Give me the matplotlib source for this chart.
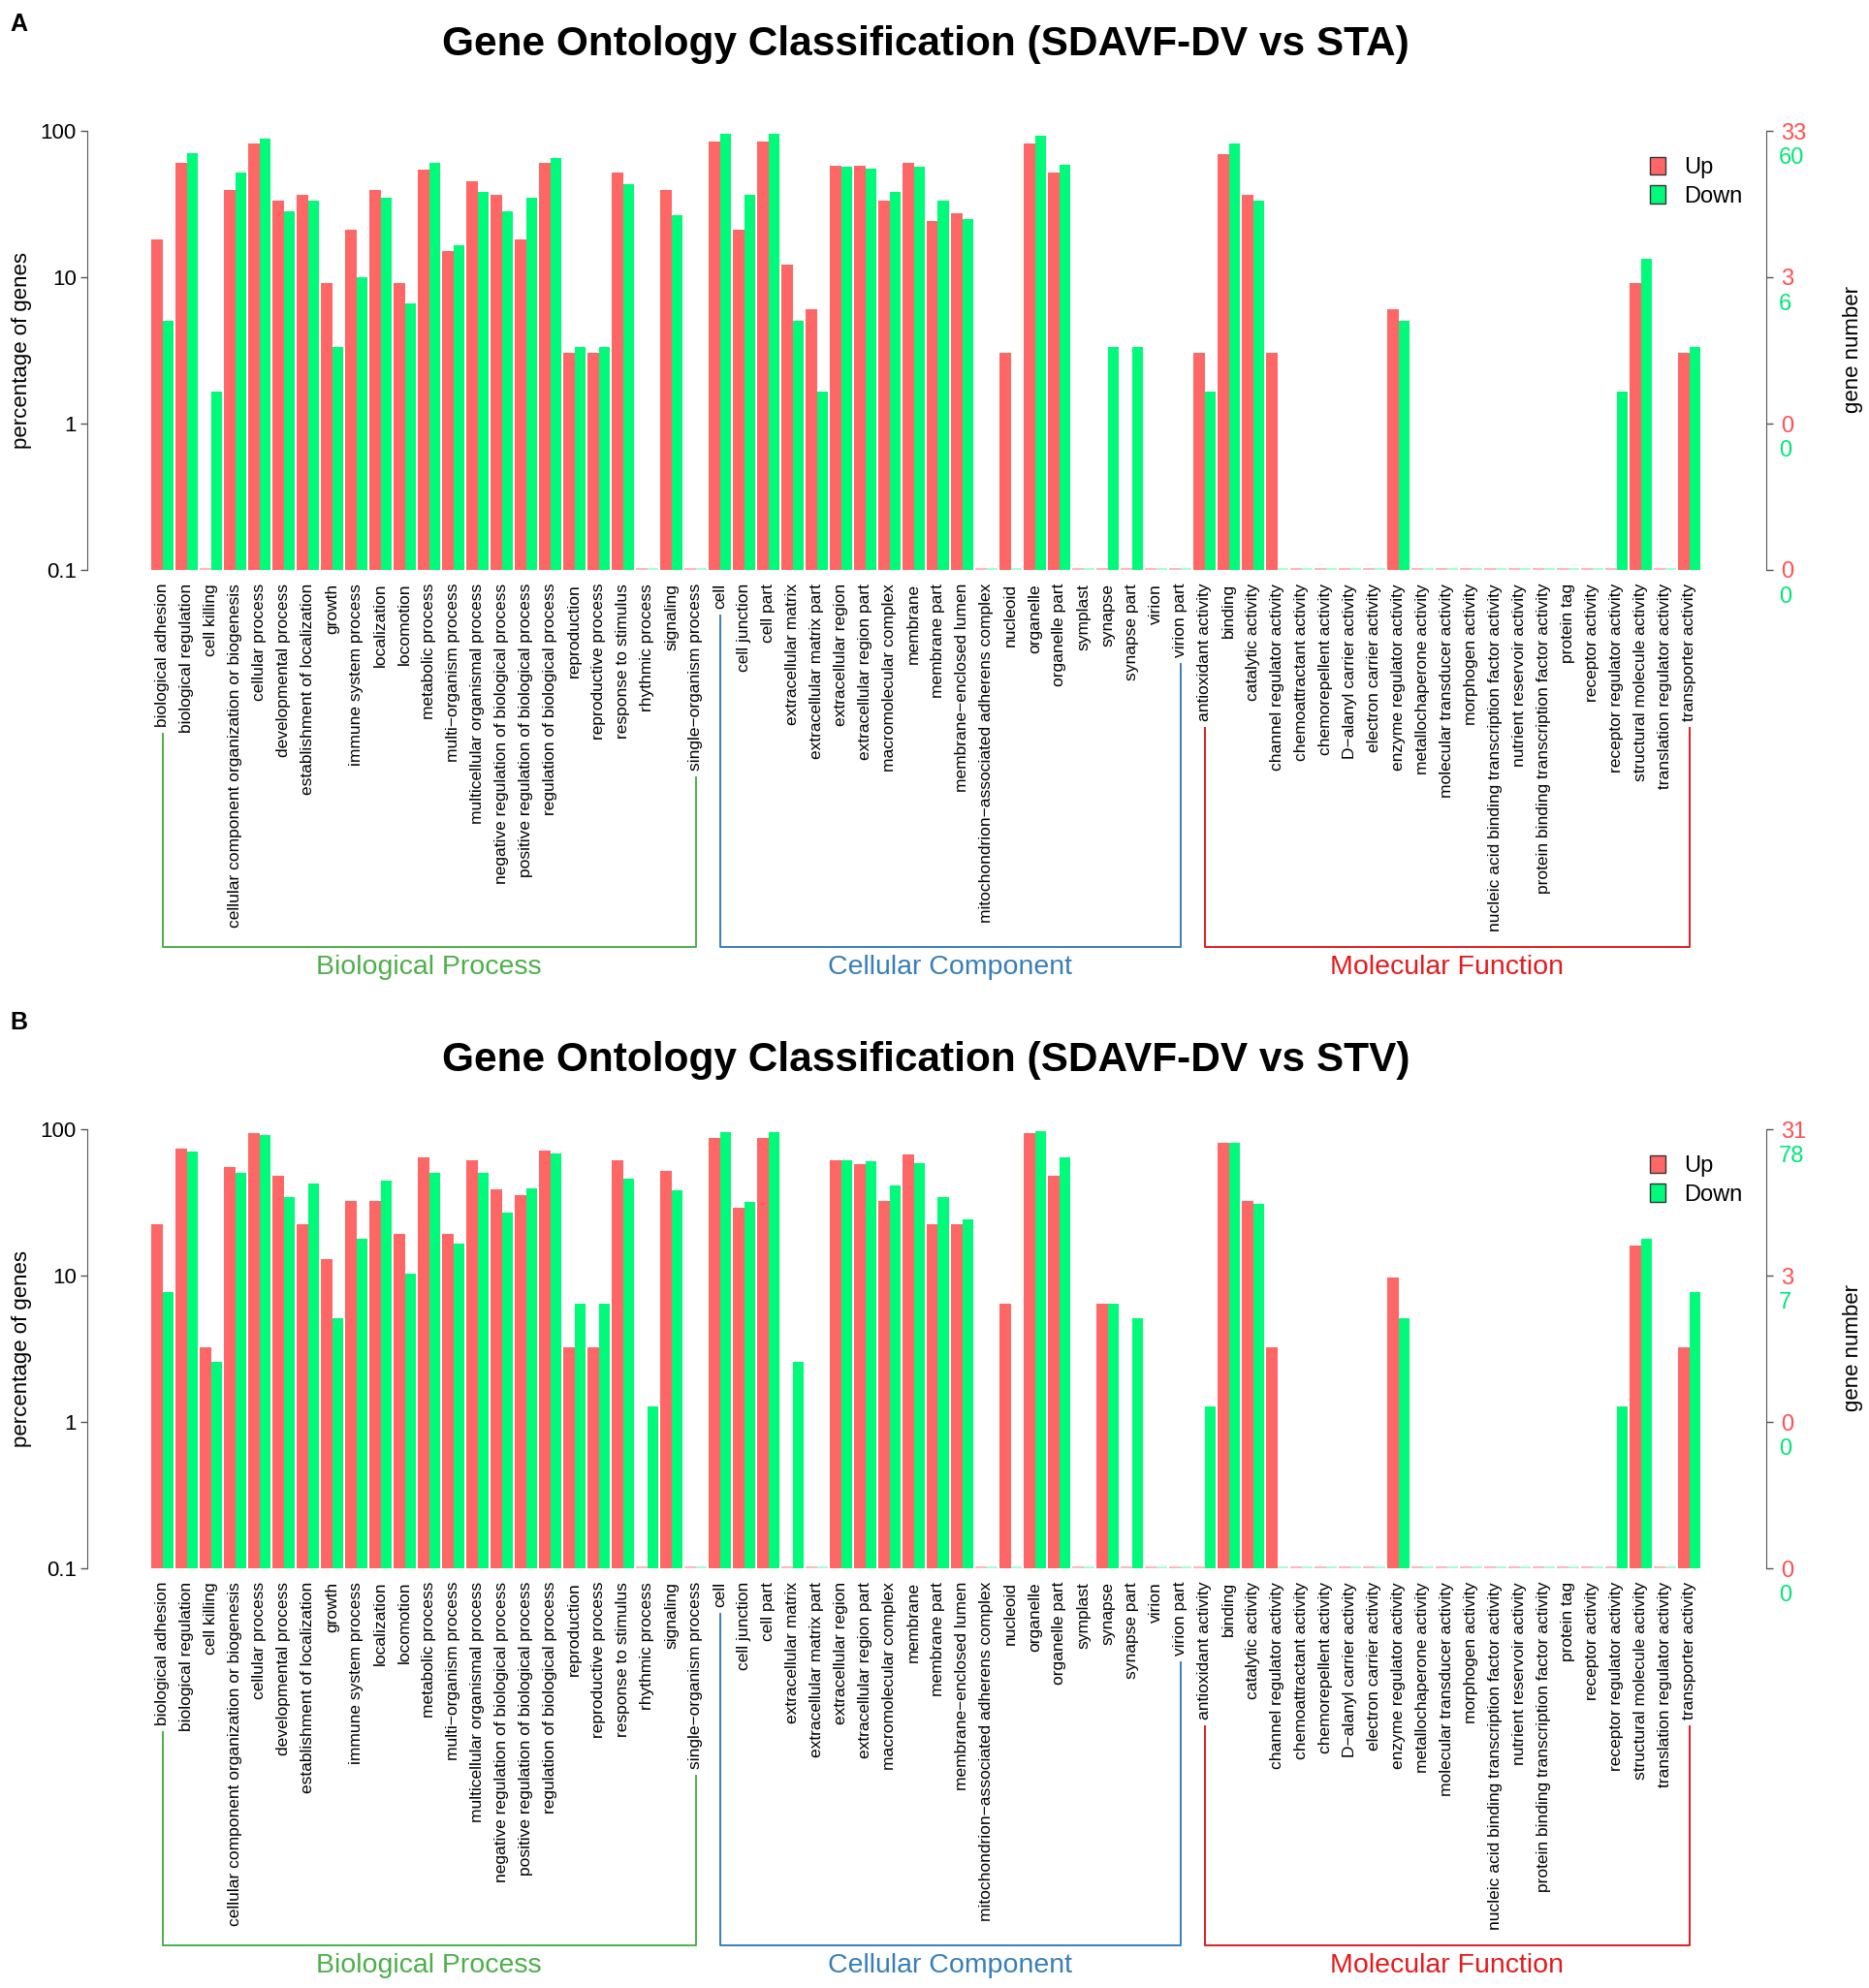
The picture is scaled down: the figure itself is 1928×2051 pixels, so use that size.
import numpy as np
import matplotlib
matplotlib.use("Agg")
import matplotlib.pyplot as plt
from matplotlib.patches import Patch
from matplotlib.transforms import blended_transform_factory

plt.rcParams['font.family'] = ['Liberation Sans', 'DejaVu Sans']

# GO terms, grouped by ontology
bp_terms = ["biological adhesion", "biological regulation", "cell killing",
            "cellular component organization or biogenesis", "cellular process",
            "developmental process", "establishment of localization", "growth",
            "immune system process", "localization", "locomotion", "metabolic process",
            "multi\u2212organism process", "multicellular organismal process",
            "negative regulation of biological process",
            "positive regulation of biological process",
            "regulation of biological process", "reproduction", "reproductive process",
            "response to stimulus", "rhythmic process", "signaling",
            "single\u2212organism process"]
cc_terms = ["cell", "cell junction", "cell part", "extracellular matrix",
            "extracellular matrix part", "extracellular region",
            "extracellular region part", "macromolecular complex", "membrane",
            "membrane part", "membrane\u2212enclosed lumen",
            "mitochondrion\u2212associated adherens complex", "nucleoid", "organelle",
            "organelle part", "symplast", "synapse", "synapse part", "virion",
            "virion part"]
mf_terms = ["antioxidant activity", "binding", "catalytic activity",
            "channel regulator activity", "chemoattractant activity",
            "chemorepellent activity", "D\u2212alanyl carrier activity",
            "electron carrier activity", "enzyme regulator activity",
            "metallochaperone activity", "molecular transducer activity",
            "morphogen activity", "nucleic acid binding transcription factor activity",
            "nutrient reservoir activity", "protein binding transcription factor activity",
            "protein tag", "receptor activity", "receptor regulator activity",
            "structural molecule activity", "translation regulator activity",
            "transporter activity"]
group_names = ["Biological Process", "Cellular Component", "Molecular Function"]
group_colors = ["#4DAF4A", "#377EB8", "#E41A1C"]

# gene counts per term (A: SDAVF-DV vs STA)
up_a = [6, 20, 0, 13, 27, 11, 12, 3, 7, 13, 3, 18, 5, 15, 12, 6, 20, 1, 1, 17, 0, 13, 0,
        28, 7, 28, 4, 2, 19, 19, 11, 20, 8, 9, 0, 1, 27, 17, 0, 0, 0, 0, 0,
        1, 23, 12, 1, 0, 0, 0, 0, 2, 0, 0, 0, 0, 0, 0, 0, 0, 0, 3, 0, 1]
down_a = [3, 42, 1, 31, 53, 17, 20, 2, 6, 21, 4, 36, 10, 23, 17, 21, 39, 2, 2, 26, 0, 16, 0,
          57, 22, 57, 3, 1, 34, 33, 23, 34, 20, 15, 0, 0, 56, 35, 0, 2, 2, 0, 0,
          1, 49, 20, 0, 0, 0, 0, 0, 3, 0, 0, 0, 0, 0, 0, 0, 0, 1, 8, 0, 2]
up_total_a = 33
down_total_a = 60
right_up_labels_a = ["0", "0", "3", "33"]
right_down_labels_a = ["0", "0", "6", "60"]

# gene counts per term (B: SDAVF-DV vs STV)
up_b = [7, 23, 1, 17, 29, 15, 7, 4, 10, 10, 6, 20, 6, 19, 12, 11, 22, 1, 1, 19, 0, 16, 0,
        27, 9, 27, 0, 0, 19, 18, 10, 21, 7, 7, 0, 2, 29, 15, 0, 2, 0, 0, 0,
        0, 25, 10, 1, 0, 0, 0, 0, 3, 0, 0, 0, 0, 0, 0, 0, 0, 0, 5, 0, 1]
down_b = [6, 55, 2, 39, 71, 27, 33, 4, 14, 35, 8, 39, 13, 39, 21, 31, 53, 5, 5, 36, 1, 30, 0,
          75, 25, 75, 2, 0, 48, 47, 32, 46, 27, 19, 0, 0, 76, 50, 0, 5, 4, 0, 0,
          1, 63, 24, 0, 0, 0, 0, 0, 4, 0, 0, 0, 0, 0, 0, 0, 0, 1, 14, 0, 6]
up_total_b = 31
down_total_b = 78
right_up_labels_b = ["0", "0", "3", "31"]
right_down_labels_b = ["0", "0", "7", "78"]

log_ticks = [0.1, 1, 10, 100]
up_color = "#FF6666"
down_color = "#00FA7A"
up_text = "#FF4F4F"
down_text = "#00E676"

terms = bp_terms + cc_terms + mf_terms
groups = [(0, len(bp_terms) - 1),
          (len(bp_terms), len(bp_terms) + len(cc_terms) - 1),
          (len(bp_terms) + len(cc_terms), len(terms) - 1)]

W, H = 1928, 2051
fig = plt.figure(figsize=(W / 100, H / 100), dpi=100)


def px_rect(x0, y0, x1, y1):
    return [x0 / W, 1 - y1 / H, (x1 - x0) / W, (y1 - y0) / H]


def panel(top, letter, title, title_y, up, down, up_total, down_total, r_up, r_down):
    ax = fig.add_axes(px_rect(90, top, 1822, top + 453))
    x = np.arange(len(terms))
    base = 0.1
    w = 0.46
    up_pct = np.array(up) / up_total * 100
    down_pct = np.array(down) / down_total * 100
    for vals, off, col, light in [(up_pct, -w / 2, up_color, "#FFB8B8"),
                                  (down_pct, w / 2, down_color, "#A6FFD2")]:
        nz = vals > 0
        ax.bar(x[nz] + off, vals[nz] - base, bottom=base, width=w, color=col,
               edgecolor="none")
        ax.hlines(np.full((~nz).sum(), base), x[~nz] + off - w / 2, x[~nz] + off + w / 2,
                  color=light, lw=3)
    ax.set_yscale("log")
    ax.set_ylim(0.1, 100)
    ax.set_xlim(-3.1, len(terms) + 2.18)
    ax.set_yticks(log_ticks)
    ax.set_yticklabels(["0.1", "1", "10", "100"])
    ax.minorticks_off()
    ax.tick_params(axis="y", labelsize=16, length=5, width=1, color="#555555", pad=3)
    ax.set_xticks(x)
    ax.set_xticklabels(terms, rotation=90, fontsize=12.5, va="top")
    ax.tick_params(axis="x", length=0, pad=10)
    for s in ["top", "bottom", "right"]:
        ax.spines[s].set_visible(False)
    ax.spines["left"].set_color("#555555")
    ax.set_ylabel("percentage of genes", fontsize=16, labelpad=6)

    ax2 = ax.twinx()
    ax2.set_yscale("log")
    ax2.set_ylim(0.1, 100)
    ax2.set_yticks(log_ticks)
    ax2.set_yticklabels(r_up, color=up_text)
    ax2.minorticks_off()
    ax2.tick_params(axis="y", labelsize=17, length=5, width=1, color="#555555", pad=6)
    for s in ["top", "bottom", "left"]:
        ax2.spines[s].set_visible(False)
    ax2.spines["right"].set_color("#555555")
    trans = blended_transform_factory(ax2.transAxes, ax2.transData)
    for t, lab in zip(log_ticks, r_down):
        ax2.annotate(lab, (1, t), xycoords=trans, xytext=(9.5, -20),
                     textcoords="offset points", color=down_text, fontsize=17,
                     ha="left", va="center")
    fig.text(1912 / W, 1 - (top + 226) / H, "gene number", fontsize=16, rotation=90,
             ha="center", va="center")

    ax.legend(handles=[Patch(facecolor=up_color, edgecolor="#333333", label="Up"),
                       Patch(facecolor=down_color, edgecolor="#333333", label="Down")],
              loc="upper left", bbox_to_anchor=(0.931, 0.94), frameon=False,
              fontsize=17, handlelength=0.65, handleheight=0.8, handletextpad=0.8,
              labelspacing=0.3, borderpad=0, borderaxespad=0)

    # bracket lines under the term labels
    fig.canvas.draw()
    r = fig.canvas.get_renderer()
    inv = ax.transAxes.inverted()
    labels = ax.get_xticklabels()
    btrans = blended_transform_factory(ax.transData, ax.transAxes)
    y_line = -389 / 453
    for (i0, i1), name, col in zip(groups, group_names, group_colors):
        tops = []
        for i in (i0, i1):
            bb = labels[i].get_window_extent(r)
            tops.append(inv.transform((0, bb.y0 - 7))[1])
        ax.plot([i0, i0, i1, i1], [tops[0], y_line, y_line, tops[1]], color=col,
                lw=1.4, transform=btrans, clip_on=False)
        ax.text((i0 + i1) / 2, y_line - 0.047, name, color=col, fontsize=20.5,
                ha="center", va="center", transform=btrans)

    fig.text(955 / W, 1 - title_y / H, title, fontsize=30.5, fontweight="bold",
             ha="center", va="center")
    fig.text(10 / W, 1 - (top - 110) / H, letter, fontsize=18, fontweight="bold",
             ha="left", va="center")


panel(135, "A", "Gene Ontology Classification (SDAVF-DV vs STA)", 46,
      up_a, down_a, up_total_a, down_total_a, right_up_labels_a, right_down_labels_a)
panel(1165, "B", "Gene Ontology Classification (SDAVF-DV vs STV)", 1094,
      up_b, down_b, up_total_b, down_total_b, right_up_labels_b, right_down_labels_b)

fig.savefig("out.png", dpi=100)
